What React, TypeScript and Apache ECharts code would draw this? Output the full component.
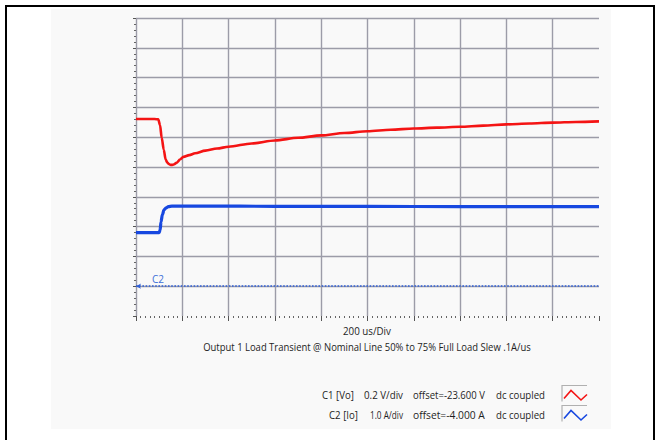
import React, { useEffect, useRef } from "react";
import * as echarts from "echarts";

// ---- data (time in microseconds, amplitude in screen divisions) ----
const redTimeUs = [0, 40, 80, 96, 104, 111, 120, 128, 135, 142, 150, 157, 165, 175, 190, 205, 230, 255, 300, 350, 400, 500, 600, 700, 800, 900, 1000, 1100, 1200, 1300, 1400, 1500, 1600, 1700, 1800, 1900, 2000];
const redDiv = [6.61, 6.61, 6.61, 6.6, 6.4, 5.98, 5.58, 5.25, 5.15, 5.1, 5.07, 5.07, 5.09, 5.14, 5.25, 5.34, 5.4, 5.46, 5.55, 5.62, 5.68, 5.79, 5.89, 5.98, 6.06, 6.14, 6.2, 6.25, 6.29, 6.32, 6.35, 6.39, 6.43, 6.46, 6.49, 6.51, 6.53];
const blueTimeUs = [0, 50, 100, 104, 108, 114, 121, 130, 140, 155, 170, 200, 300, 600, 1000, 1400, 1800, 2000];
const blueDiv = [2.8, 2.8, 2.8, 2.88, 3.16, 3.4, 3.56, 3.63, 3.67, 3.69, 3.69, 3.69, 3.69, 3.68, 3.68, 3.67, 3.67, 3.67];
const c2MarkerDiv = 1;
const timeMinUs = 0;
const timeMaxUs = 2000;
const timeDivUs = 200;
const ampMin = 0;
const ampMax = 10;
const ampDiv = 1;

const xLabel = "200 us/Div";
const titleText = "Output 1 Load Transient @ Nominal Line 50% to 75% Full Load Slew .1A/us";
const legendChannels = ["C1 [Vo]", "C2 [Io]"];
const legendScales = ["0.2 V/div", "1.0 A/div"];
const legendOffsets = ["offset=-23.600 V", "offset=-4.000 A"];
const legendCoupling = ["dc coupled", "dc coupled"];
const channelColors = ["#f41414", "#1748e0"];
const c2Label = "C2";

const FONT = '"Open Sans", "Noto Sans", sans-serif';
let measureCtx: CanvasRenderingContext2D | null = null;
function measure(text: string, size: number): number {
  if (!measureCtx) measureCtx = document.createElement("canvas").getContext("2d");
  measureCtx!.font = `${size}px "Open Sans"`;
  return measureCtx!.measureText(text).width;
}
function fitText(text: string, x: number, y: number, w: number, align: string, size: number, color: string) {
  return {
    type: "text",
    x,
    y,
    scaleX: w / measure(text, size),
    style: {
      text,
      fontSize: size,
      fontFamily: FONT,
      fill: color,
      align,
      textAlign: align,
      verticalAlign: "middle",
      textVerticalAlign: "middle",
    },
  };
}

export default function App() {
  const ref = useRef<HTMLDivElement>(null);
  useEffect(() => {
    const chart = echarts.init(ref.current!, null, { renderer: "svg" });
    const redData = redTimeUs.map((t, i) => [t, redDiv[i]]);
    const blueData = blueTimeUs.map((t, i) => [t, blueDiv[i]]);
    const textColor = "#1e1e1e";
    const legendTop = [395, 415];
    const graphics: any[] = [
      fitText(xLabel, 367, 331, 48, "center", 10.5, textColor),
      fitText(titleText, 367, 347, 328, "center", 10.5, textColor),
    ];
    legendChannels.forEach((c, i) => {
      const y = legendTop[i];
      graphics.push(fitText(c, i === 0 ? 354 : 358, y, i === 0 ? 32 : 29, "right", 11, textColor));
      graphics.push(fitText(legendScales[i], 403, y, i === 0 ? 39 : 33, "right", 11, textColor));
      graphics.push(fitText(legendOffsets[i], 413, y, 72, "left", 11, textColor));
      graphics.push(fitText(legendCoupling[i], 496, y, 49, "left", 11, textColor));
      const by = y - 9.5;
      graphics.push({
        type: "polyline",
        shape: { points: [[587, by], [562, by], [562, by + 16]] },
        style: { stroke: "#b0b0b0", lineWidth: 1.2, fill: "none" },
      });
      graphics.push({
        type: "polyline",
        shape: { points: [[564, by + 13], [571, by + 5], [581, by + 14.5], [587, by + 9]] },
        style: { stroke: channelColors[i], lineWidth: 1.6, fill: "none" },
      });
    });

    chart.setOption({
      animation: false,
      backgroundColor: "transparent",
      grid: { left: 136, top: 18, width: 463, height: 298, containLabel: false },
      xAxis: {
        type: "value",
        min: timeMinUs,
        max: timeMaxUs,
        interval: timeDivUs,
        offset: 1,
        axisLine: { show: false },
        axisLabel: { show: false },
        axisTick: { show: true, length: 5, lineStyle: { color: "#555", width: 1 } },
        minorTick: { show: true, splitNumber: 10, length: 2, lineStyle: { color: "#666", width: 1 } },
        splitLine: { show: true, showMaxLine: false, lineStyle: { color: "#9c9ca8", width: 1.4 } },
      },
      yAxis: {
        type: "value",
        min: ampMin,
        max: ampMax,
        interval: ampDiv,
        axisLine: { show: false },
        axisLabel: { show: false },
        axisTick: { show: true, length: 3, lineStyle: { color: "#555", width: 1 } },
        minorTick: { show: true, splitNumber: 5, length: 2, lineStyle: { color: "#666", width: 1 } },
        splitLine: { show: true, showMinLine: false, lineStyle: { color: "#9c9ca8", width: 1.4 } },
      },
      series: [
        {
          name: "C1",
          type: "line",
          data: redData,
          showSymbol: false,
          smooth: 0.3,
          smoothMonotone: "x",
          lineStyle: { color: channelColors[0], width: 2.6 },
          z: 3,
        },
        {
          name: "C2",
          type: "line",
          data: blueData,
          showSymbol: false,
          smooth: 0.3,
          smoothMonotone: "x",
          lineStyle: { color: channelColors[1], width: 3.2 },
          z: 3,
          markLine: {
            silent: true,
            symbol: ["arrow", "none"],
            symbolSize: [4, 5],
            lineStyle: { type: "dotted", color: "#2f5fd6", width: 1.6 },
            label: {
              show: true,
              formatter: c2Label,
              position: "insideStartTop",
              distance: [16, 2],
              color: "#3d6fd8",
              fontSize: 10,
              fontFamily: FONT,
            },
            data: [{ yAxis: c2MarkerDiv }],
          },
        },
      ],
      graphic: graphics,
    });
    return () => chart.dispose();
  }, []);
  return (
    <div style={{ position: "absolute", left: 0, top: 0, width: 659, height: 440, background: "#fff", overflow: "hidden" }}>
      <div
        style={{
          position: "absolute",
          left: 5,
          top: 5,
          width: 646,
          height: 440,
          borderLeft: "2px solid #000",
          borderTop: "2px solid #000",
          borderRight: "2px solid #000",
        }}
      />
      <div style={{ position: "absolute", left: 51, top: 9, width: 560, height: 420, background: "#f9f9f9" }} />
      <div ref={ref} style={{ position: "absolute", left: 0, top: 0, width: 659, height: 440 }} />
    </div>
  );
}
